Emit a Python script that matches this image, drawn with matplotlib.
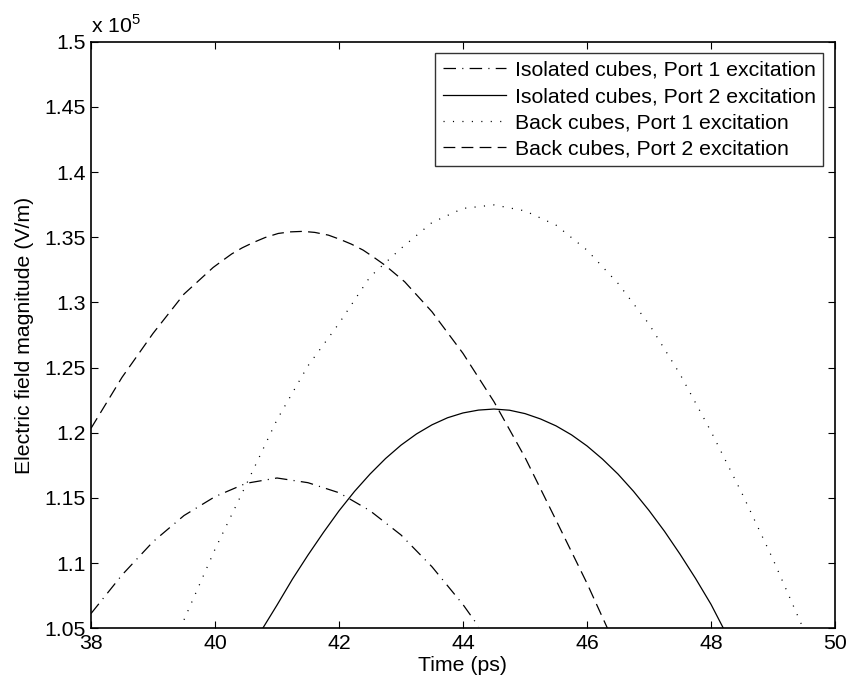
import matplotlib
matplotlib.use("Agg")
import matplotlib.pyplot as plt

plt.rcParams['font.family'] = ['Liberation Sans', 'DejaVu Sans']
plt.rcParams['mathtext.fontset'] = 'custom'
plt.rcParams['mathtext.rm'] = 'Liberation Sans'
plt.rcParams['lines.scale_dashes'] = False

# Data (field magnitude in units of 1e5 V/m, time in ps)
iso_p1_t = [38.0, 38.5, 39.0, 39.5, 40.0, 40.5, 41.0, 41.5, 42.0, 42.5, 43.0, 43.5, 44.0, 44.25]
iso_p1_v = [1.0613, 1.0909, 1.1164, 1.1365, 1.1510, 1.1612, 1.1653, 1.1617, 1.1540, 1.1402,
            1.1216, 1.0972, 1.0682, 1.0515]

iso_p2_t = [40.77, 41.0, 41.25, 41.5, 41.75, 42.0, 42.25, 42.5, 42.75, 43.0, 43.25, 43.5,
            43.75, 44.0, 44.25, 44.5, 44.75, 45.0, 45.25, 45.5, 45.75, 46.0, 46.25, 46.5,
            46.75, 47.0, 47.25, 47.5, 47.75, 48.0, 48.2]
iso_p2_v = [1.0500, 1.0678, 1.0878, 1.1062, 1.1236, 1.1401, 1.1550, 1.1683, 1.1802, 1.1905,
            1.1991, 1.2061, 1.2115, 1.2152, 1.2174, 1.2182, 1.2173, 1.2147, 1.2106, 1.2053,
            1.1984, 1.1899, 1.1798, 1.1683, 1.1551, 1.1404, 1.1244, 1.1069, 1.0883, 1.0684,
            1.0500]

back_p1_t = [39.5, 40.0, 40.5, 41.0, 41.5, 42.0, 42.5, 43.0, 43.5, 44.0, 44.5, 45.0, 45.5,
             46.0, 46.5, 47.0, 47.5, 48.0, 48.5, 49.0, 49.47]
back_p1_v = [1.0565, 1.1106, 1.1599, 1.2100, 1.2514, 1.2839, 1.3196, 1.3414, 1.3613, 1.3721,
             1.3748, 1.3702, 1.3593, 1.3401, 1.3146, 1.2834, 1.2450, 1.2010, 1.1535, 1.1029,
             1.0518]

back_p2_t = [38.0, 38.5, 39.0, 39.5, 39.97, 40.13, 40.27, 40.44, 40.62, 40.81, 41.02, 41.21,
             41.42, 41.61, 41.83, 42.02, 42.2, 42.39, 42.55, 42.74, 42.9, 43.06, 43.5, 44.0,
             44.5, 45.0, 45.5, 46.0, 46.33]
back_p2_v = [1.2034, 1.2425, 1.2762, 1.3064, 1.3268, 1.3324, 1.3372, 1.3419, 1.3460, 1.3498,
             1.3529, 1.3541, 1.3545, 1.3537, 1.3516, 1.3483, 1.3447, 1.3401, 1.3350, 1.3286,
             1.3222, 1.3158, 1.2928, 1.2609, 1.2238, 1.1811, 1.1330, 1.0845, 1.0500]

labels = ['Isolated cubes, Port 1 excitation', 'Isolated cubes, Port 2 excitation',
          'Back cubes, Port 1 excitation', 'Back cubes, Port 2 excitation']

x_ticks = [38, 40, 42, 44, 46, 48, 50]
y_ticks = [1.05, 1.1, 1.15, 1.2, 1.25, 1.3, 1.35, 1.4, 1.45, 1.5]
y_ticklabels = ['1.05', '1.1', '1.15', '1.2', '1.25', '1.3', '1.35', '1.4', '1.45', '1.5']

FS = 15.3

fig = plt.figure(figsize=(8.48, 6.84), dpi=100)
ax = fig.add_axes([91/848, 1-628.3/684, (835-91)/848, (628.3-41.7)/684])

lw = 0.9
ax.plot(iso_p1_t, iso_p1_v, color='black', lw=lw, dashes=(9, 4.5, 0.8, 4.5), label=labels[0])
ax.plot(iso_p2_t, iso_p2_v, color='black', lw=lw, linestyle='-', label=labels[1])
ax.plot(back_p1_t, back_p1_v, color='black', lw=lw, dashes=(0.8, 6), label=labels[2])
ax.plot(back_p2_t, back_p2_v, color='black', lw=lw, dashes=(8.5, 4.5), label=labels[3])

ax.set_xlim(38, 50)
ax.set_ylim(1.05, 1.5)
ax.set_xticks(x_ticks)
ax.set_yticks(y_ticks)
ax.set_yticklabels(y_ticklabels)
ax.tick_params(direction='in', length=5, width=0.8, top=True, right=True,
               labelsize=FS, pad=4, colors='black')
for s in ax.spines.values():
    s.set_linewidth(1.2)

ax.set_xlabel('Time (ps)', fontsize=FS, labelpad=2)
ax.set_ylabel('Electric field magnitude (V/m)', fontsize=FS, labelpad=7)
ax.text(0, 1.008, r'x 10$^5$', transform=ax.transAxes, fontsize=FS, ha='left', va='bottom')

leg = ax.legend(loc='upper right', fontsize=FS, frameon=True, fancybox=False,
                edgecolor='black', handlelength=3.0, handletextpad=0.4,
                labelspacing=0.34, borderpad=0.35, borderaxespad=0.55)
leg.get_frame().set_linewidth(1.0)

fig.savefig('out.png', dpi=100, facecolor='white')
